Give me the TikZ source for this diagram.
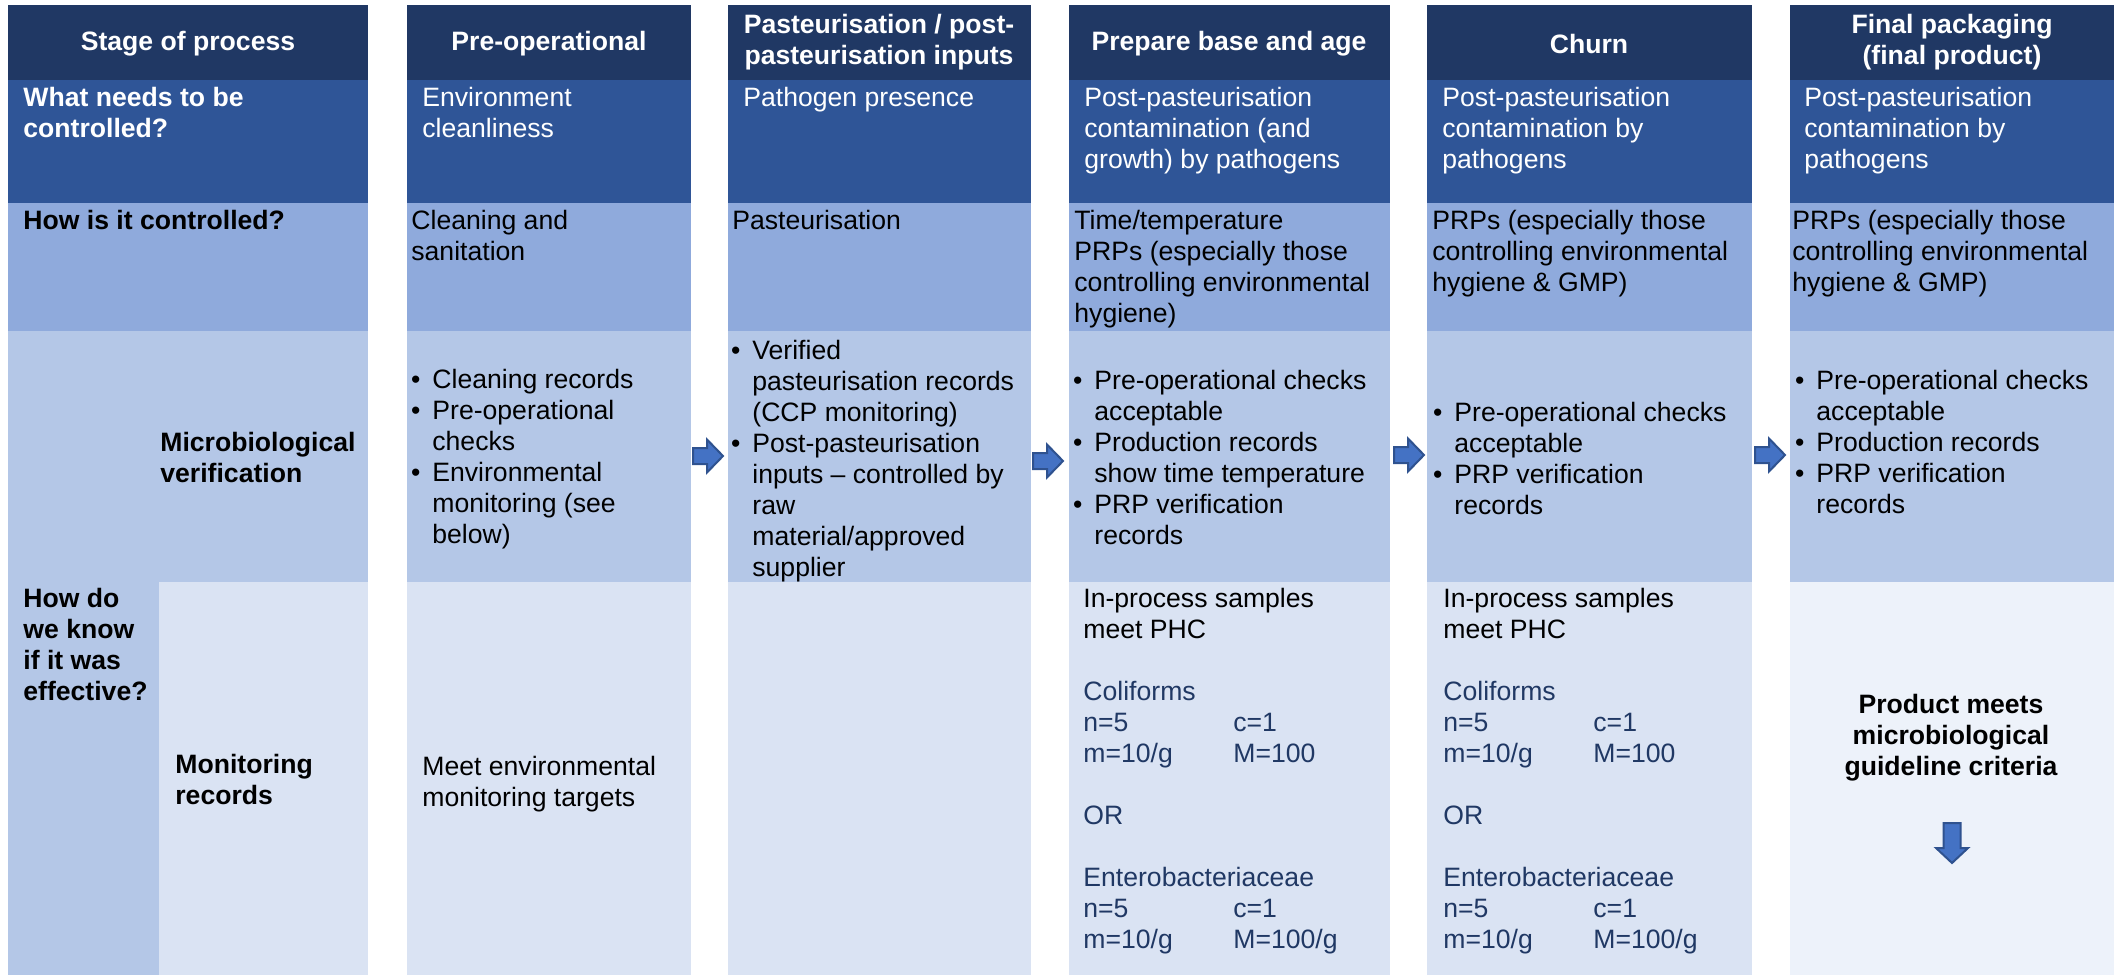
\documentclass[tikz,border=0pt]{standalone}
\usepackage{fontspec}
\setmainfont{Liberation Sans}
\usepackage{xcolor}

\definecolor{headblue}{HTML}{203864}
\definecolor{needblue}{HTML}{2F5597}
\definecolor{howblue}{HTML}{8FAADC}
\definecolor{verblue}{HTML}{B4C7E7}
\definecolor{monblue}{HTML}{DAE3F3}
\definecolor{paleblue}{HTML}{EDF2FA}
\definecolor{arrowfill}{HTML}{4472C4}
\definecolor{arrowline}{HTML}{2F528F}
\definecolor{critblue}{HTML}{203864}

\newcommand{\bul}{\llap{\textbullet\hspace{6pt}}}
\newcommand{\pair}[2]{\makebox[75pt][l]{#1}#2}
\newcommand{\lstack}[1]{\begin{tabular}[t]{@{}l@{}}#1\end{tabular}}
\newcommand{\cstack}[1]{\begin{tabular}[t]{@{}c@{}}#1\end{tabular}}

\tikzset{
  blockarrow/.style={fill=arrowfill, draw=arrowline, line width=1pt},
  rarrow/.pic={\draw[blockarrow] (0,-8) -- (14,-8) -- (14,-16.5) -- (30,0) -- (14,16.5) -- (14,8) -- (0,8) -- cycle;},
  darrow/.pic={\draw[blockarrow] (-8.5,0) -- (8.5,0) -- (8.5,25) -- (16,25) -- (0,40) -- (-16,25) -- (-8.5,25) -- cycle;}
}

\begin{document}
\begin{tikzpicture}[x=0.5pt, y=-0.5pt,
    every node/.style={inner sep=0pt, font=\fontsize{13.3}{15.5}\selectfont},
    head/.style={text=white, font=\fontsize{13.3}{15.5}\selectfont\bfseries, align=center},
    cell/.style={anchor=base west},
    rowlabel/.style={cell, font=\fontsize{13.3}{15.5}\selectfont\bfseries}]
    \useasboundingbox (0,0) rectangle (2114,975);

    % Column backgrounds
    \foreach \l/\r in {8/368, 407/691, 728/1031, 1069/1390, 1427/1752, 1790/2114} {
        \fill[headblue] (\l,5) rectangle (\r,80);
        \fill[needblue] (\l,80) rectangle (\r,203);
        \fill[howblue] (\l,203) rectangle (\r,331);
        \fill[verblue] (\l,331) rectangle (\r,582);
        \fill[monblue] (\l,582) rectangle (\r,975);
    }
    \fill[verblue] (8,582) rectangle (159,975);
    \fill[paleblue] (1790,582) rectangle (2114,975);

    % Headers
    \node[head] (stage) at (188,44) {Stage of process};
    \node[head] (preop) at (549,44) {Pre-operational};
    \node[head] (past) at (879,42) {Pasteurisation / post-\\pasteurisation inputs};
    \node[head] (base) at (1229,44) {Prepare base and age};
    \node[head] (churn) at (1589,44) {Churn};
    \node[head] (final) at (1952,42) {Final packaging\\(final product)};

    % What needs to be controlled?
    \node[rowlabel, text=white] (need) at (23,106) {\lstack{What needs to be\\controlled?}};
    \node[cell, text=white] (need2) at (422,106) {\lstack{Environment\\cleanliness}};
    \node[cell, text=white] (need3) at (743,106) {\lstack{Pathogen presence}};
    \node[cell, text=white] (need4) at (1084,106) {\lstack{Post-pasteurisation\\contamination (and\\growth) by pathogens}};
    \node[cell, text=white] (need5) at (1442,106) {\lstack{Post-pasteurisation\\contamination by\\pathogens}};
    \node[cell, text=white] (need6) at (1804,106) {\lstack{Post-pasteurisation\\contamination by\\pathogens}};

    % How is it controlled?
    \node[rowlabel] (how) at (23,229) {\lstack{How is it controlled?}};
    \node[cell] (how2) at (411,229) {\lstack{Cleaning and\\sanitation}};
    \node[cell] (how3) at (732,229) {\lstack{Pasteurisation}};
    \node[cell] (how4) at (1074,229) {\lstack{Time/temperature\\PRPs (especially those\\controlling environmental\\hygiene)}};
    \node[cell] (how5) at (1432,229) {\lstack{PRPs (especially those\\controlling environmental\\hygiene \& GMP)}};
    \node[cell] (how6) at (1792,229) {\lstack{PRPs (especially those\\controlling environmental\\hygiene \& GMP)}};

    % How do we know if it was effective?
    \node[rowlabel] (know) at (23,607) {\lstack{How do\\we know\\if it was\\effective?}};
    \node[rowlabel] (micro) at (160,451) {\lstack{Microbiological\\verification}};
    \node[rowlabel] (moni) at (175,773) {\lstack{Monitoring\\records}};

    % Microbiological verification
    \node[cell] (ver2) at (432,388) {\lstack{\bul Cleaning records\\\bul Pre-operational\\checks\\\bul Environmental\\monitoring (see\\below)}};
    \node[cell] (ver3) at (752,359) {\lstack{\bul Verified\\pasteurisation records\\(CCP monitoring)\\\bul Post-pasteurisation\\inputs -- controlled by\\raw\\material/approved\\supplier}};
    \node[cell] (ver4) at (1094,389) {\lstack{\bul Pre-operational checks\\acceptable\\\bul Production records\\show time temperature\\\bul PRP verification\\records}};
    \node[cell] (ver5) at (1454,421) {\lstack{\bul Pre-operational checks\\acceptable\\\bul PRP verification\\records}};
    \node[cell] (ver6) at (1816,389) {\lstack{\bul Pre-operational checks\\acceptable\\\bul Production records\\\bul PRP verification\\records}};

    % Monitoring records
    \node[cell] (mon2) at (422,775) {\lstack{Meet environmental\\monitoring targets}};
    \node[cell] (mon4) at (1083,607) {\lstack{In-process samples\\meet PHC\\[15.5pt]
        \color{critblue}Coliforms\\\color{critblue}\pair{n=5}{c=1}\\\color{critblue}\pair{m=10/g}{M=100}\\[15.5pt]
        \color{critblue}OR\\[15.5pt]
        \color{critblue}Enterobacteriaceae\\\color{critblue}\pair{n=5}{c=1}\\\color{critblue}\pair{m=10/g}{M=100/g}}};
    \node[cell] (mon5) at (1443,607) {\lstack{In-process samples\\meet PHC\\[15.5pt]
        \color{critblue}Coliforms\\\color{critblue}\pair{n=5}{c=1}\\\color{critblue}\pair{m=10/g}{M=100}\\[15.5pt]
        \color{critblue}OR\\[15.5pt]
        \color{critblue}Enterobacteriaceae\\\color{critblue}\pair{n=5}{c=1}\\\color{critblue}\pair{m=10/g}{M=100/g}}};
    \node[rowlabel, anchor=base] (mon6) at (1951,713) {\cstack{Product meets\\microbiological\\guideline criteria}};

    % Arrows between stages
    \pic at (693,456) {rarrow};
    \pic at (1033,461) {rarrow};
    \pic at (1394,455) {rarrow};
    \pic at (1755,455) {rarrow};
    \pic at (1952,823) {darrow};
\end{tikzpicture}
\end{document}
